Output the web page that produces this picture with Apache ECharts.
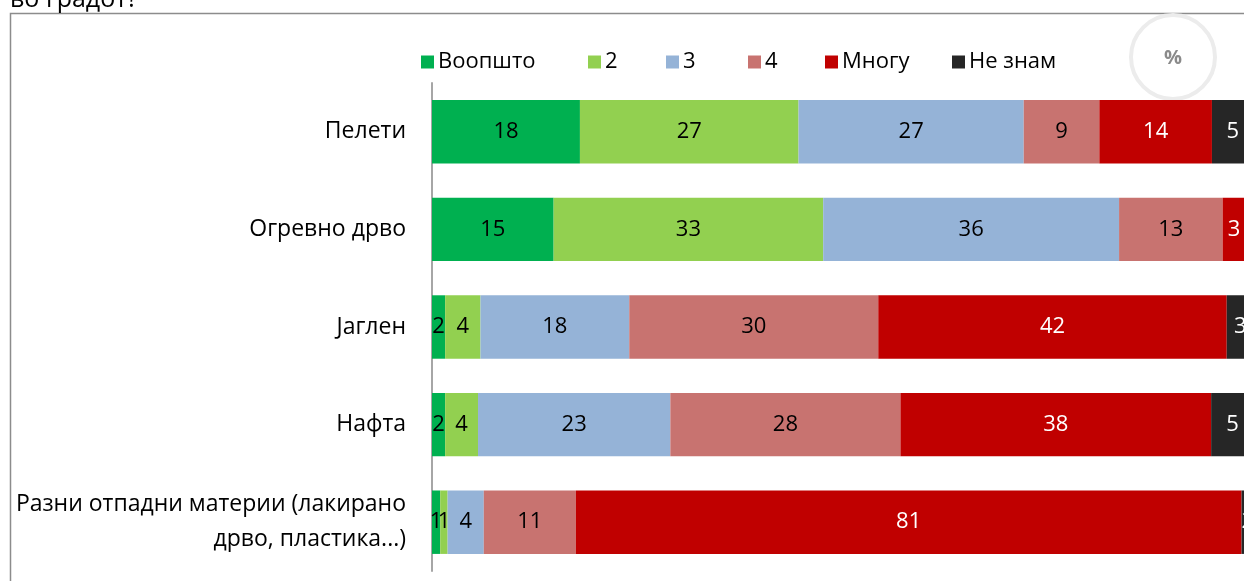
<!DOCTYPE html>
<html>
<head>
<meta charset="utf-8">
<script src="https://cdn.jsdelivr.net/npm/echarts@6/dist/echarts.min.js"></script>
<style>
html,body{margin:0;padding:0;background:#fff;}
#c{width:1244px;height:581px;}
</style>
</head>
<body>
<div id="c"></div>
<script>
const categories = ['Пелети', 'Огревно дрво', 'Јаглен', 'Нафта', 'Разни отпадни материи (лакирано\nдрво, пластика...)'];
const seriesNames = ['Воопшто', '2', '3', '4', 'Многу', 'Не знам'];
// shares in % (labels show them rounded)
const vOpsto = [18.0, 14.8, 1.6, 1.6, 1.0];
const v2 = [26.6, 32.8, 4.3, 4.0, 0.9];
const v3 = [27.4, 36.0, 18.1, 23.4, 4.4];
const v4 = [9.2, 12.6, 30.3, 28.0, 11.2];
const vMnogu = [13.7, 2.8, 42.4, 37.8, 81.0];
const vNeZnam = [5.1, 1.0, 3.3, 5.2, 1.5];
const colors = ['#00b050', '#92d050', '#95b3d7', '#c87370', '#c00000', '#262626'];
const labelColors = ['#000', '#000', '#000', '#000', '#fff', '#fff'];
const legendX = [416, 583, 661, 743, 820, 947];

const allValues = [vOpsto, v2, v3, v4, vMnogu, vNeZnam];
const FONT = 'Open Sans';

const chart = echarts.init(document.getElementById('c'), null, {renderer: 'canvas'});
const option = {
  animation: false,
  textStyle: {fontFamily: FONT},
  grid: {left: 432, right: 0, top: 83, height: 488, containLabel: false},
  legend: seriesNames.map((n, i) => ({
    data: [n], left: legendX[i], top: 46, itemWidth: 13, itemHeight: 13, itemGap: 0,
    icon: 'rect', textStyle: {fontFamily: FONT, fontSize: 22, color: '#000', padding: [0, 0, 0, -1]},
    selectedMode: false
  })),
  xAxis: {type: 'value', min: 0, max: 98.8, show: false},
  yAxis: {
    type: 'category', data: categories, inverse: true,
    axisLine: {show: true, lineStyle: {color: '#a6a6a6', width: 2}},
    axisTick: {show: false},
    axisLabel: {fontFamily: FONT, fontSize: 23, color: '#000', margin: 26, align: 'right', lineHeight: 35}
  },
  series: seriesNames.map((n, i) => ({
    name: n, type: 'bar', stack: 'all', data: allValues[i], barCategoryGap: '35%', clip: false,
    itemStyle: {color: colors[i]},
    label: {show: true, position: 'inside', color: labelColors[i], fontFamily: FONT, fontSize: 22,
      formatter: p => Math.round(p.value)}
  })),
  graphic: [
    {type: 'rect', shape: {x: 10.5, y: 13.5, width: 1300, height: 700}, style: {fill: 'none', stroke: '#8c8c8c', lineWidth: 1.5}, z: -1},
    {type: 'text', left: 10, top: -13, style: {text: 'во градот?', fontFamily: FONT, fontSize: 25, fill: '#000'}},
    {type: 'circle', shape: {cx: 1173, cy: 57, r: 42}, style: {fill: 'none', stroke: '#ececec', lineWidth: 4}},
    {type: 'text', x: 1173, y: 58, style: {text: '%', fontFamily: FONT, fontSize: 20, fontWeight: 'bold', fill: '#8a8a8a', align: 'center', verticalAlign: 'middle'}}
  ]
};
chart.setOption(option);
</script>
</body>
</html>
